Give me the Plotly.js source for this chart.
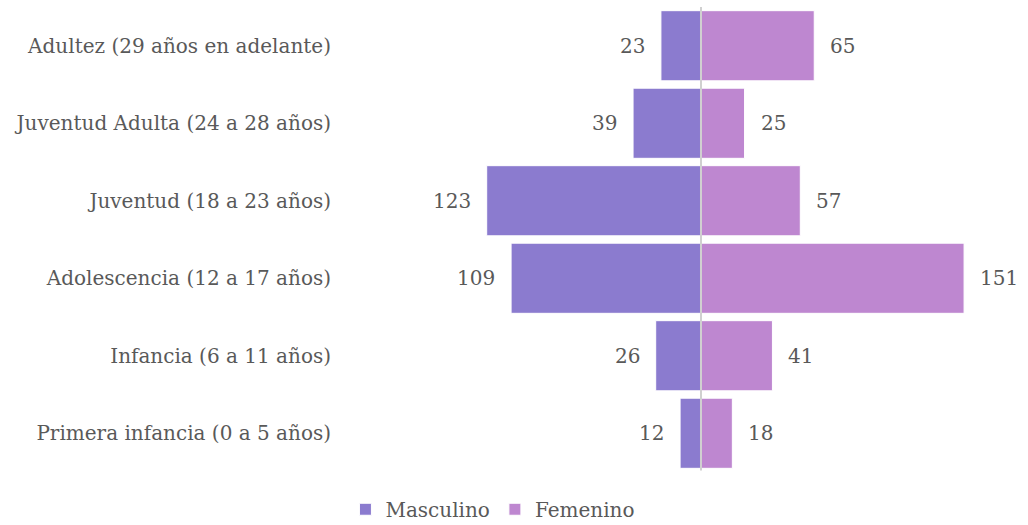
<!DOCTYPE html>
<html>
<head>
<meta charset="utf-8">
<script src="https://cdn.plot.ly/plotly-3.0.1.min.js"></script>
<style>html,body{margin:0;padding:0;background:#fff;}#chart{width:1028px;height:525px;}</style>
</head>
<body>
<div id="chart"></div>
<script>
const categories = [
  "Adultez (29 años en adelante)",
  "Juventud Adulta (24 a 28 años)",
  "Juventud (18 a 23 años)",
  "Adolescencia (12 a 17 años)",
  "Infancia (6 a 11 años)",
  "Primera infancia (0 a 5 años)"
];
const masculino = [23, 39, 123, 109, 26, 12];
const femenino = [65, 25, 57, 151, 41, 18];
const seriesNames = ["Masculino", "Femenino"];

const FONT = "DejaVu Serif";
const TXT = "#595959";
const FS = 20;
const C_M = "#8b7bcf";
const C_F = "#be87d0";

const traces = [
  {
    type: "bar", orientation: "h", name: seriesNames[0],
    y: categories, x: masculino.map(v => -v),
    marker: {color: C_M, line: {color: "#ffffff", width: 1}},
    hoverinfo: "skip"
  },
  {
    type: "bar", orientation: "h", name: seriesNames[1],
    y: categories, x: femenino,
    marker: {color: C_F, line: {color: "#ffffff", width: 1}},
    hoverinfo: "skip"
  }
];

const annotations = [];
categories.forEach((c, i) => {
  annotations.push({x: -masculino[i], y: c, xref: "x", yref: "y", text: String(masculino[i]),
    showarrow: false, xanchor: "right", xshift: -14, font: {family: FONT, size: FS, color: TXT}});
  annotations.push({x: femenino[i], y: c, xref: "x", yref: "y", text: String(femenino[i]),
    showarrow: false, xanchor: "left", xshift: 14, font: {family: FONT, size: FS, color: TXT}});
});

const layout = {
  width: 1028, height: 525,
  margin: {l: 340, r: 8, t: 7, b: 53, autoexpand: false},
  paper_bgcolor: "#ffffff", plot_bgcolor: "#ffffff",
  barmode: "overlay", bargap: 0.095,
  font: {family: FONT, size: FS, color: TXT},
  xaxis: {range: [-207.2, 183.1], showticklabels: false, showgrid: false, zeroline: false, fixedrange: true},
  yaxis: {autorange: "reversed", showgrid: false, zeroline: false, ticks: "", ticklen: 0,
    ticklabelstandoff: 8, automargin: false, tickfont: {family: FONT, size: FS, color: TXT}},
  showlegend: true,
  legend: {orientation: "h", xref: "container", yref: "container", x: 0.4795, xanchor: "center",
    y: 0.03, yanchor: "middle",
    font: {family: FONT, size: FS, color: TXT}, itemwidth: 30, traceorder: "normal"},
  shapes: [{type: "line", xref: "x", yref: "paper", x0: 0, x1: 0, y0: 0.003, y1: 1,
    line: {color: "#d0d0d0", width: 2}, layer: "above"}],
  annotations: annotations
};

Plotly.newPlot("chart", traces, layout, {displayModeBar: false, staticPlot: true});
</script>
</body>
</html>
